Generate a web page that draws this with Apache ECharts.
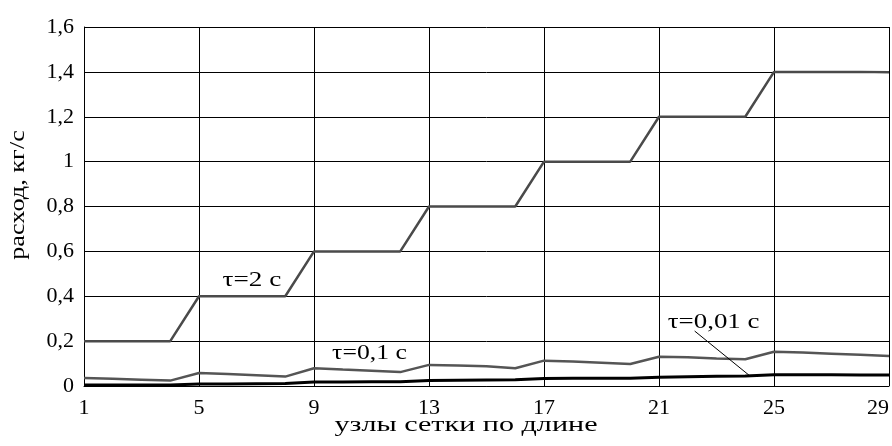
<!DOCTYPE html>
<html><head><meta charset="utf-8">
<script src="https://cdn.jsdelivr.net/npm/echarts@6/dist/echarts.min.js"></script>
<style>html,body{margin:0;padding:0;background:#fff}#c{width:892px;height:446px}</style>
</head><body><div id="c"></div>
<script>
// ---- data ----
const nodes = [1,2,3,4,5,6,7,8,9,10,11,12,13,14,15,16,17,18,19,20,21,22,23,24,25,26,27,28,29];
const tau2 = [0.2,0.2,0.2,0.2,0.4,0.4,0.4,0.4,0.6,0.6,0.6,0.6,0.8,0.8,0.8,0.8,1.0,1.0,1.0,1.0,1.2,1.2,1.2,1.2,1.4,1.4,1.4,1.4,1.398];
const tau01 = [0.036,0.032,0.028,0.024,0.058,0.054,0.048,0.042,0.079,0.073,0.068,0.062,0.094,0.091,0.088,0.079,0.113,0.109,0.104,0.098,0.130,0.128,0.123,0.119,0.153,0.149,0.144,0.139,0.134];
const tau001 = [0.005,0.005,0.005,0.005,0.009,0.009,0.010,0.011,0.018,0.018,0.019,0.019,0.025,0.026,0.027,0.028,0.033,0.034,0.034,0.035,0.039,0.041,0.043,0.045,0.050,0.050,0.050,0.049,0.049];
const yTickLabels = ['0','0,2','0,4','0,6','0,8','1','1,2','1,4','1,6'];
const seriesNames = ['τ=2 с','τ=0,1 с','τ=0,01 с'];
const xTitle = 'узлы сетки по длине';
const yTitle = 'расход, кг/с';

const FONT = '"Liberation Serif","Times New Roman",serif';
const chart = echarts.init(document.getElementById('c'), null, {renderer:'canvas'});

const toPairs = arr => nodes.map((n,i)=>[n, arr[i]]);

chart.setOption({
  animation:false,
  backgroundColor:'#fff',
  grid:{left:84, right:0, top:27, bottom:60, containLabel:false},
  xAxis:{
    type:'value', min:1, max:29, interval:4,
    axisLine:{show:true, onZero:false, lineStyle:{color:'#000', width:1}},
    axisTick:{show:false},
    splitLine:{show:true, lineStyle:{color:'#000', width:1}},
    axisLabel:{color:'#000', fontFamily:FONT, fontSize:22, margin:11, alignMaxLabel:'right'}
  },
  yAxis:{
    type:'value', min:0, max:1.6, interval:0.2,
    axisLine:{show:true, lineStyle:{color:'#000', width:1}},
    axisTick:{show:false},
    splitLine:{show:true, lineStyle:{color:'#000', width:1}},
    axisLabel:{color:'#000', fontFamily:FONT, fontSize:22, margin:10,
      formatter:(v)=>yTickLabels[Math.round(v/0.2)]}
  },
  series:[
    {name:seriesNames[0], type:'line', data:toPairs(tau2), showSymbol:false, lineStyle:{color:'#4a4a4a', width:2.5}, z:3},
    {name:seriesNames[1], type:'line', data:toPairs(tau01), showSymbol:false, lineStyle:{color:'#555555', width:2.5}, z:3},
    {name:seriesNames[2], type:'line', data:toPairs(tau001), showSymbol:false, lineStyle:{color:'#000', width:3}, z:4}
  ]
});

// text stretched along its baseline, as in the reference
const cv = document.createElement('canvas').getContext('2d');
function fitScale(text, size, target){
  cv.font = size + 'px ' + FONT;
  const m = cv.measureText(text);
  const ink = (m.actualBoundingBoxLeft||0) + (m.actualBoundingBoxRight||m.width);
  return target / ink;
}
function label(text, x, y, size, target, rot){
  return {type:'text', x:x, y:y, rotation:rot||0, scaleX:fitScale(text,size,target), z:10,
    style:{text:text, font:size+'px '+FONT, fill:'#000', align:'center', verticalAlign:'middle'}};
}
const P = (x,y)=>chart.convertToPixel({gridIndex:0},[x,y]);
const a1 = P(6.84,0.472), a2 = P(10.93,0.147), a3 = P(22.9,0.283);
const l1 = P(22.24,0.245), l2 = P(24.18,0.043);
chart.setOption({graphic:[
  label(xTitle, 466, 425, 22, 262),
  label(yTitle, 18, 195, 22, 130, Math.PI/2),
  label(seriesNames[0], a1[0], a1[1], 22, 59),
  label(seriesNames[1], a2[0], a2[1], 22, 75),
  label(seriesNames[2], a3[0], a3[1], 22, 92),
  {type:'line', z:10, shape:{x1:l1[0], y1:l1[1], x2:l2[0], y2:l2[1]}, style:{stroke:'#000', lineWidth:1}}
]});
</script></body></html>
